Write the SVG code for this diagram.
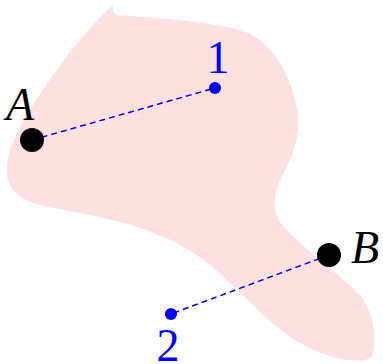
<svg xmlns="http://www.w3.org/2000/svg" width="383" height="364" viewBox="0 0 383 364">
<style>
.lbl{font-family:"Liberation Serif","DejaVu Serif",serif;font-size:46px}
.conn{stroke:#0000ff;stroke-width:1.5;stroke-dasharray:6,4;fill:none}
</style>
<rect width="383" height="364" fill="#ffffff"/>
<path id="region" fill="#fde0e0" d="M113,5 C112,10 114,14 118,15 C150,18 200,20 240,30 C270,40 290,70 297,110 C302,140 290,160 280,180 C272,200 272,215 285,228 C305,250 340,275 360,295 C376,315 376,345 372,356 C366,366 325,360 292,338 C262,318 240,290 210,265 C180,240 140,225 90,215 C50,207 20,205 10,185 C0,165 15,135 30,110 C50,78 80,35 113,5 Z"/>
<g id="connectors">
<line class="conn" x1="32" y1="140" x2="215" y2="88"/>
<line class="conn" x1="329" y1="255" x2="171" y2="314"/>
</g>
<g id="A">
<circle cx="32" cy="140" r="12" fill="#000"/>
<text class="lbl" x="6" y="120" font-style="italic" fill="#000">A</text>
</g>
<g id="n1">
<circle cx="215" cy="88" r="6" fill="#0000ff"/>
<text class="lbl" x="218" y="73" text-anchor="middle" fill="#0000ff">1</text>
</g>
<g id="B">
<circle cx="329" cy="255" r="12" fill="#000"/>
<text class="lbl" x="351" y="263" font-style="italic" fill="#000">B</text>
</g>
<g id="n2">
<circle cx="171" cy="314" r="6" fill="#0000ff"/>
<text class="lbl" x="168" y="361" text-anchor="middle" fill="#0000ff">2</text>
</g>
</svg>
